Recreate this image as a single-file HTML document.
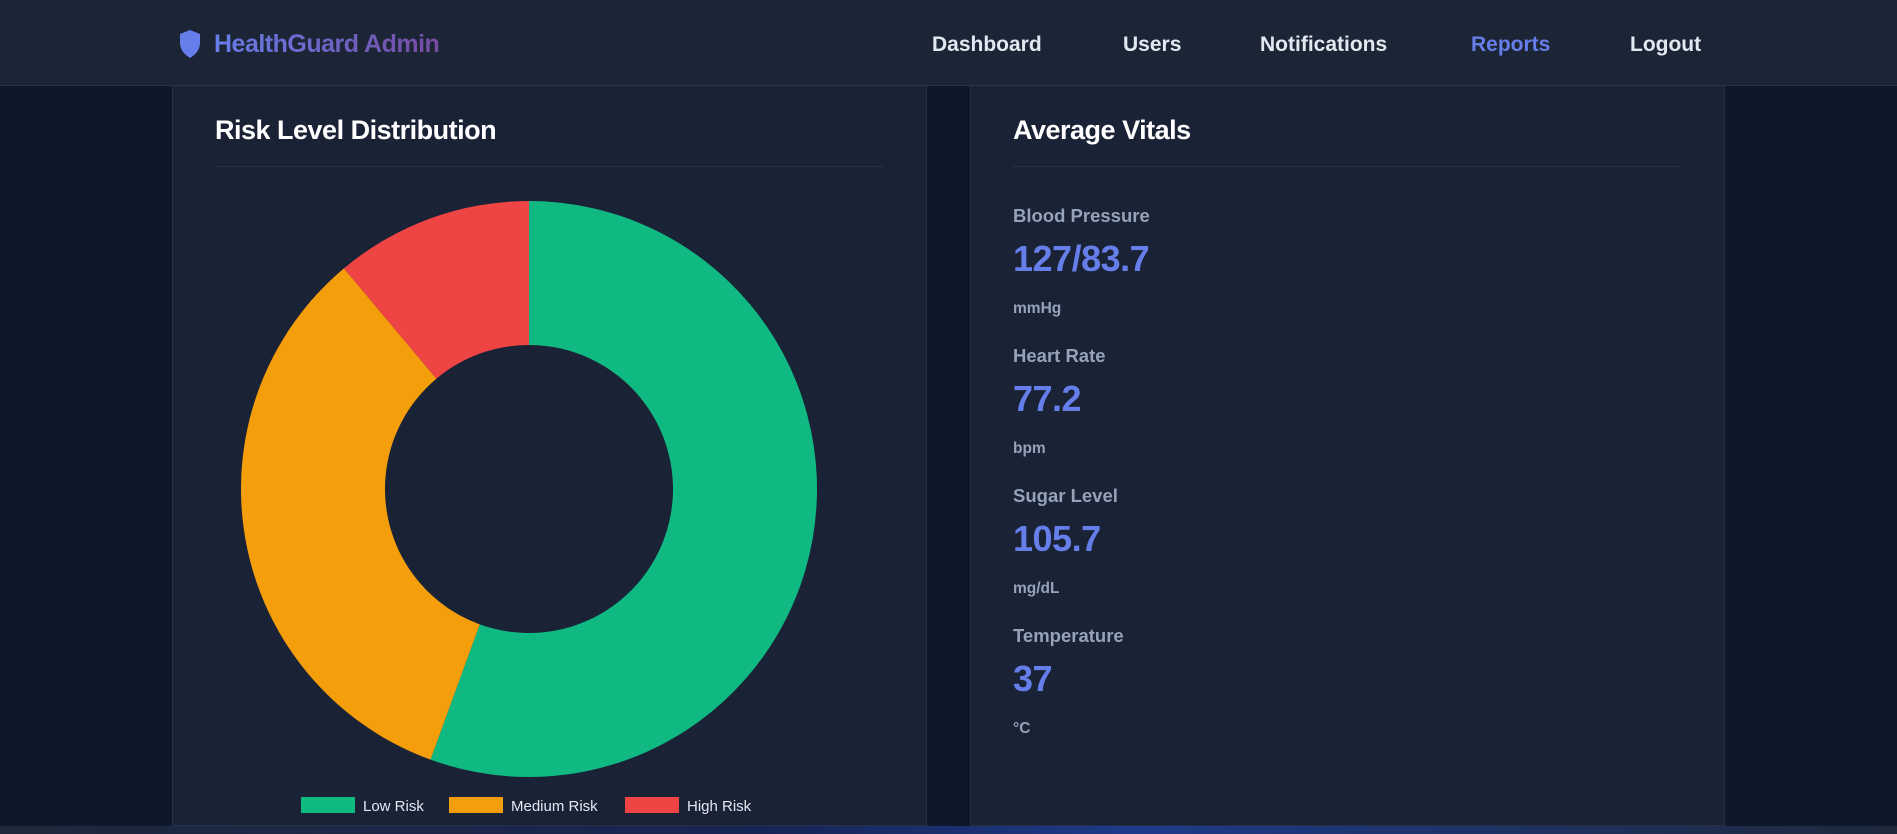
<!DOCTYPE html>
<html><head><meta charset="utf-8"><style>
*{margin:0;padding:0;box-sizing:border-box}
body{width:1897px;height:834px;overflow:hidden;background:#0f172a;font-family:"Liberation Sans",sans-serif;position:relative}
.bottom{position:absolute;left:0;top:826px;width:1897px;height:8px;background:linear-gradient(90deg,#1e293b,#172554 40%,#1e3a8a 60%,#1e293b)}
.header{position:absolute;left:0;top:0;width:1897px;height:86px;background:#1c2536;border-bottom:1px solid #2a3447}
.logo{position:absolute;left:179px;top:30px}
.brand{position:absolute;left:214px;top:30px;font-size:25px;font-weight:700;letter-spacing:-0.5px;background:linear-gradient(90deg,#667eea,#764ba2);-webkit-background-clip:text;color:transparent}
.nav{position:absolute;top:33px;font-size:21px;font-weight:700;color:#e2e8f0}
.card{position:absolute;top:86px;height:740px;background:#1a2236;border:1px solid #253047;border-top:none}
.title{position:absolute;left:42px;top:29px;font-size:27px;font-weight:700;color:#fff;letter-spacing:-0.5px}
.div{position:absolute;left:42px;top:80px;height:1px;background:#263149}
.lbl{position:absolute;left:42px;font-size:18.5px;font-weight:700;color:#94a3b8}
.val{position:absolute;left:42px;font-size:36px;font-weight:700;color:#667eea;letter-spacing:-0.5px}
.unit{position:absolute;left:42px;font-size:15.5px;font-weight:700;color:#94a3b8}
</style></head><body>
<div class="header">
<svg class="logo" width="22" height="28" viewBox="0 0 22 28"><path d="M11 0 L21 4 V13 C21 20 16 25 11 28 C6 25 1 20 1 13 V4 Z" fill="#667eea"/></svg>
<div class="brand">HealthGuard Admin</div>
<div class="nav" style="left:932px">Dashboard</div>
<div class="nav" style="left:1123px">Users</div>
<div class="nav" style="left:1260px">Notifications</div>
<div class="nav" style="left:1471px;color:#667eea">Reports</div>
<div class="nav" style="left:1630px">Logout</div>
</div>
<div class="card" style="left:172px;width:755px">
<div class="title">Risk Level Distribution</div>
<div class="div" style="width:669px"></div>
<svg id="donut" width="755" height="740" style="position:absolute;left:0;top:0"></svg>
</div>
<div class="card" style="left:970px;width:755px">
<div class="title">Average Vitals</div>
<div class="div" style="width:669px"></div>
<div class="lbl" style="top:119px">Blood Pressure</div>
<div class="val" style="top:152px">127/83.7</div>
<div class="unit" style="top:214px">mmHg</div>
<div class="lbl" style="top:259px">Heart Rate</div>
<div class="val" style="top:292px">77.2</div>
<div class="unit" style="top:354px">bpm</div>
<div class="lbl" style="top:399px">Sugar Level</div>
<div class="val" style="top:432px">105.7</div>
<div class="unit" style="top:494px">mg/dL</div>
<div class="lbl" style="top:539px">Temperature</div>
<div class="val" style="top:572px">37</div>
<div class="unit" style="top:634px">°C</div>
</div>
<div class="bottom"></div>
<script>
const categories=["Low Risk","Medium Risk","High Risk"];
const counts=[5,3,1];
const colors=["#10b981","#f59e0b","#ef4444"];
const svg=document.getElementById('donut');
const NS='http://www.w3.org/2000/svg';
const cx=356,cy=403,R=288,r=144;
const total=counts.reduce((a,b)=>a+b,0);
function pt(a,rad){return [cx+rad*Math.sin(a),cy-rad*Math.cos(a)];}
let a0=0;
counts.forEach((v,i)=>{
  const a1=a0+v/total*2*Math.PI;
  const large=(a1-a0)>Math.PI?1:0;
  const [x0,y0]=pt(a0,R),[x1,y1]=pt(a1,R),[x2,y2]=pt(a1,r),[x3,y3]=pt(a0,r);
  const p=document.createElementNS(NS,'path');
  p.setAttribute('d',`M${x0} ${y0}A${R} ${R} 0 ${large} 1 ${x1} ${y1}L${x2} ${y2}A${r} ${r} 0 ${large} 0 ${x3} ${y3}Z`);
  p.setAttribute('fill',colors[i]);
  
  
  svg.appendChild(p);
  a0=a1;
});
const lx=[128,276,452];
categories.forEach((c,i)=>{
  const g=document.createElementNS(NS,'g');
  
  
  const rc=document.createElementNS(NS,'rect');
  rc.setAttribute('x',lx[i]);rc.setAttribute('y',711);rc.setAttribute('width',54);rc.setAttribute('height',16);rc.setAttribute('fill',colors[i]);
  const t=document.createElementNS(NS,'text');
  t.setAttribute('x',lx[i]+62);t.setAttribute('y',725);t.setAttribute('fill','#e2e8f0');t.setAttribute('font-size','15');t.setAttribute('font-family','Liberation Sans, sans-serif');
  t.textContent=c;
  g.appendChild(rc);g.appendChild(t);svg.appendChild(g);
});
</script>
</body></html>
